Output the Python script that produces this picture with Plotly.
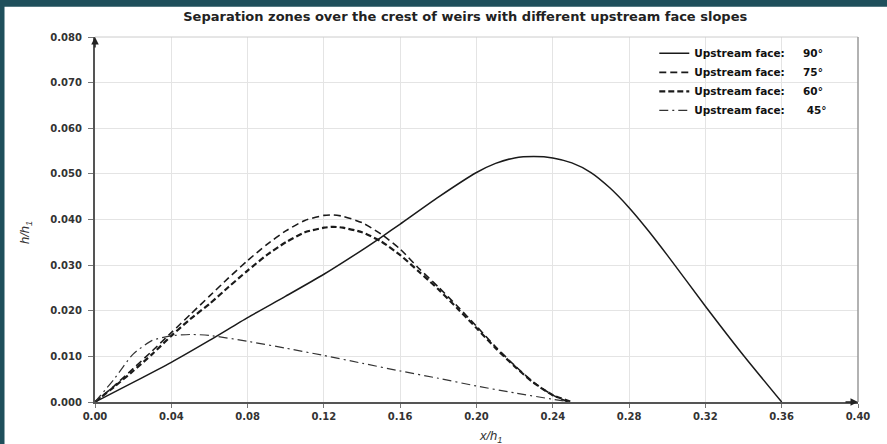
import plotly.graph_objects as go

title = "Separation zones over the crest of weirs with different upstream face slopes"

x90 = [0, 0.02, 0.04, 0.06, 0.08, 0.10, 0.12, 0.14, 0.15, 0.16, 0.18, 0.20, 0.21, 0.22, 0.23, 0.24, 0.25, 0.26, 0.27, 0.28, 0.29, 0.30, 0.32, 0.34, 0.36]
y90 = [0, 0.0043, 0.0087, 0.0135, 0.0185, 0.0232, 0.0280, 0.0333, 0.0361, 0.0390, 0.0449, 0.0503, 0.0523, 0.0535, 0.0538, 0.0535, 0.0524, 0.0503, 0.0469, 0.0426, 0.0376, 0.0322, 0.0210, 0.0102, 0.0]

x75 = [0, 0.01, 0.02, 0.03, 0.04, 0.05, 0.06, 0.07, 0.08, 0.09, 0.10, 0.11, 0.12, 0.125, 0.13, 0.14, 0.15, 0.16, 0.17, 0.18, 0.19, 0.20, 0.21, 0.22, 0.23, 0.24, 0.248]
y75 = [0, 0.0035, 0.0073, 0.0112, 0.0152, 0.0192, 0.0232, 0.0272, 0.0310, 0.0345, 0.0375, 0.0398, 0.0409, 0.0410, 0.0407, 0.0393, 0.0368, 0.0335, 0.0292, 0.0252, 0.0210, 0.0166, 0.0121, 0.0080, 0.0043, 0.0015, 0.0]

x60 = [0, 0.01, 0.02, 0.03, 0.04, 0.05, 0.06, 0.07, 0.08, 0.09, 0.10, 0.11, 0.12, 0.125, 0.13, 0.14, 0.15, 0.16, 0.17, 0.18, 0.19, 0.20, 0.21, 0.22, 0.23, 0.24, 0.25]
y60 = [0, 0.0033, 0.0068, 0.0105, 0.0145, 0.0182, 0.0215, 0.0252, 0.0288, 0.0322, 0.0350, 0.0372, 0.0382, 0.0384, 0.0382, 0.0372, 0.0352, 0.0322, 0.0285, 0.0247, 0.0205, 0.0162, 0.0118, 0.0078, 0.0042, 0.0015, 0.0]

x45 = [0, 0.01, 0.02, 0.03, 0.04, 0.05, 0.06, 0.08, 0.10, 0.12, 0.14, 0.16, 0.18, 0.20, 0.22, 0.24, 0.25]
y45 = [0, 0.0050, 0.0105, 0.0135, 0.0145, 0.0148, 0.0146, 0.0133, 0.0118, 0.0102, 0.0085, 0.0068, 0.0052, 0.0035, 0.0020, 0.0006, 0.0]

NB = "\u00a0"
names = ["Upstream face:" + NB * 5 + "90°", "Upstream face:" + NB * 5 + "75°",
         "Upstream face:" + NB * 5 + "60°", "Upstream face:" + NB * 6 + "45°"]

x_ticks = [0.00, 0.04, 0.08, 0.12, 0.16, 0.20, 0.24, 0.28, 0.32, 0.36, 0.40]
y_ticks = [0.000, 0.010, 0.020, 0.030, 0.040, 0.050, 0.060, 0.070, 0.080]

fig = go.Figure()
fig.add_trace(go.Scatter(x=x90, y=y90, name=names[0], mode="lines",
                         line=dict(color="#1a1a1a", width=1.5, shape="spline", smoothing=0.6)))
fig.add_trace(go.Scatter(x=x75, y=y75, name=names[1], mode="lines",
                         line=dict(color="#1a1a1a", width=1.6, dash="7px,4px", shape="spline", smoothing=0.6)))
fig.add_trace(go.Scatter(x=x60, y=y60, name=names[2], mode="lines",
                         line=dict(color="#1a1a1a", width=2.2, dash="6px,3px", shape="spline", smoothing=0.6)))
fig.add_trace(go.Scatter(x=x45, y=y45, name=names[3], mode="lines",
                         line=dict(color="#333333", width=1.2, dash="9px,4px,2px,4px", shape="spline", smoothing=0.6)))

font_fam = "DejaVu Sans, Verdana, sans-serif"
lab_fam = "Liberation Sans, Arial, sans-serif"

fig.update_layout(
    width=887, height=444,
    margin=dict(l=95, r=29, t=37, b=42),
    paper_bgcolor="#1f4f5b",
    plot_bgcolor="white",
    title=dict(text="<b>" + title + "</b>", x=0.5245, xanchor="center", y=0.962, yanchor="middle",
               font=dict(family=font_fam, size=13, color="#222")),
    font=dict(family=font_fam, color="#222"),
    showlegend=True,
    legend=dict(x=0.733, y=0.995, xanchor="left", yanchor="top", bgcolor="rgba(0,0,0,0)",
                font=dict(family=font_fam, size=10.5, color="#111", weight="bold"), tracegroupgap=0,
                itemwidth=30),
    xaxis=dict(range=[0, 0.40], tickvals=x_ticks, tickformat=".2f",
               tickfont=dict(family=font_fam, size=10, color="#333", weight="bold"),
               showgrid=True, gridcolor="#e4e4e4", gridwidth=1,
               ticks="outside", ticklen=4, tickcolor="#777",
               showline=True, linecolor="#555", linewidth=2, zeroline=False),
    yaxis=dict(range=[0, 0.080], tickvals=y_ticks, tickformat=".3f",
               tickfont=dict(family=font_fam, size=10, color="#333", weight="bold"),
               showgrid=True, gridcolor="#e4e4e4", gridwidth=1,
               ticks="outside", ticklen=5, tickcolor="#777", ticklabelstandoff=4,
               showline=True, linecolor="#555", linewidth=2, zeroline=False),
    shapes=[
        dict(type="rect", xref="paper", yref="paper", x0=-0.1186, x1=1.2, y0=-0.2, y1=1.083,
             fillcolor="white", line=dict(width=0), layer="below"),
        dict(type="line", xref="paper", yref="paper", x0=0, x1=1, y0=1, y1=1,
             line=dict(color="#cccccc", width=1)),
        dict(type="line", xref="paper", yref="paper", x0=1, x1=1, y0=0, y1=1,
             line=dict(color="#999999", width=1.5)),
    ],
    annotations=[
        dict(xref="paper", yref="paper", x=0, y=1.0, ax=0, ay=12,
             showarrow=True, arrowhead=2, arrowsize=1, arrowwidth=1.5, arrowcolor="#222", text=""),
        dict(xref="paper", yref="paper", x=1.0, y=0, ax=-14, ay=0,
             showarrow=True, arrowhead=2, arrowsize=1, arrowwidth=1.5, arrowcolor="#222", text=""),
        dict(xref="paper", yref="paper", x=(490 - 95) / 763, y=-(436 - 402) / 365,
             xanchor="center", yanchor="middle", showarrow=False,
             text="<i>x/h<sub>1</sub></i>", font=dict(family=lab_fam, size=13, color="#333")),
        dict(xref="paper", yref="paper", x=-(95 - 25) / 763, y=(402 - 233) / 365,
             xanchor="center", yanchor="middle", showarrow=False, textangle=-90,
             text="<i>h/h<sub>1</sub></i>", font=dict(family=lab_fam, size=13, color="#333")),
    ],
)

fig.write_html("out.html")
